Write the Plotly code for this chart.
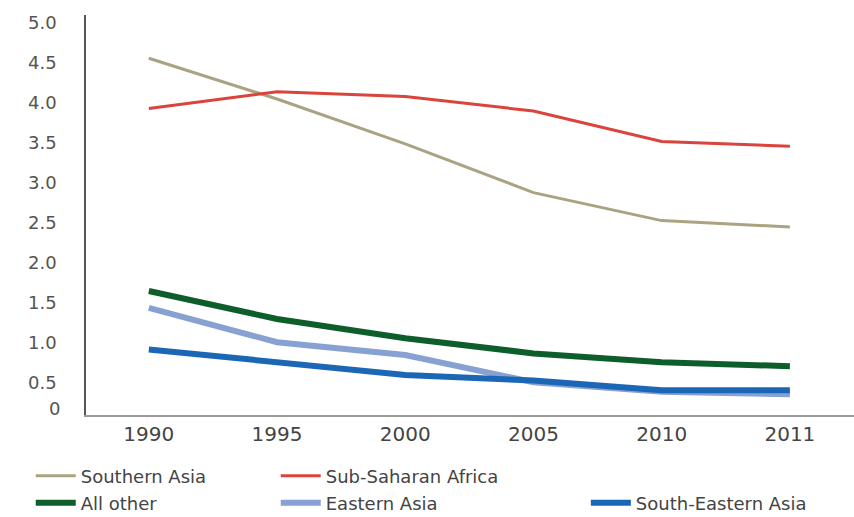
import plotly.graph_objects as go

years = ["1990", "1995", "2000", "2005", "2010", "2011"]

southern_asia = [4.56, 4.05, 3.49, 2.88, 2.53, 2.45]
sub_saharan_africa = [3.93, 4.14, 4.08, 3.90, 3.52, 3.46]
all_other = [1.65, 1.30, 1.06, 0.87, 0.76, 0.71]
eastern_asia = [1.44, 1.01, 0.85, 0.51, 0.39, 0.36]
south_eastern_asia = [0.92, 0.76, 0.60, 0.53, 0.41, 0.41]

y_tick_vals = [0.5, 1.0, 1.5, 2.0, 2.5, 3.0, 3.5, 4.0, 4.5, 5.0]
y_tick_text = ["0.5", "1.0", "1.5", "2.0", "2.5", "3.0", "3.5", "4.0", "4.5", "5.0"]

series = [
    ("Southern Asia", southern_asia, "#aaa382", 3, "legend"),
    ("Sub-Saharan Africa", sub_saharan_africa, "#d9443c", 3, "legend"),
    ("All other", all_other, "#0d5e2b", 6, "legend2"),
    ("Eastern Asia", eastern_asia, "#87a2d2", 6, "legend2"),
    ("South-Eastern Asia", south_eastern_asia, "#1b67b5", 6, "legend3"),
]

FONT = "DejaVu Sans, sans-serif"

fig = go.Figure()
for name, vals, color, width, leg in series:
    fig.add_trace(go.Scatter(
        x=years, y=vals, name=name, mode="lines",
        line=dict(color=color, width=width),
        legend=leg,
    ))

# the zero label sits just above the baseline
fig.add_annotation(
    x=0, xref="paper", xanchor="right", xshift=-24,
    y=0.1, yref="y", yanchor="middle", yshift=7,
    text="0", showarrow=False,
    font=dict(family=FONT, size=18, color="#555555"),
)

legend_font = dict(family=FONT, size=18, color="#444444")
common = dict(orientation="h", xanchor="left", yanchor="middle",
              xref="container", yref="container", font=legend_font,
              bgcolor="rgba(0,0,0,0)", entrywidth=190, entrywidthmode="pixels",
              itemwidth=40, tracegroupgap=0)

fig.update_layout(
    width=854, height=517,
    margin=dict(l=86, r=0, t=15, b=102),
    paper_bgcolor="white", plot_bgcolor="white",
    showlegend=True,
    legend=dict(x=0.036, y=1 - 476 / 517, **common),
    legend2=dict(x=0.036, y=1 - 503 / 517, **common),
    legend3=dict(x=0.686, y=1 - 503 / 517, **common),
    xaxis=dict(
        type="category", range=[-0.49, 5.5],
        showline=True, linecolor="#9a9a9a", linewidth=1.5,
        showgrid=False, ticks="", zeroline=False,
        tickfont=dict(family=FONT, size=20, color="#444444"),
    ),
    yaxis=dict(
        range=[0.1, 5.1],
        tickvals=y_tick_vals, ticktext=y_tick_text,
        showline=True, linecolor="#555555", linewidth=1.5,
        showgrid=False, zeroline=False, ticks="",
        ticklabelstandoff=24,
        tickfont=dict(family=FONT, size=18, color="#555555"),
    ),
)

fig.write_html("out.html")
